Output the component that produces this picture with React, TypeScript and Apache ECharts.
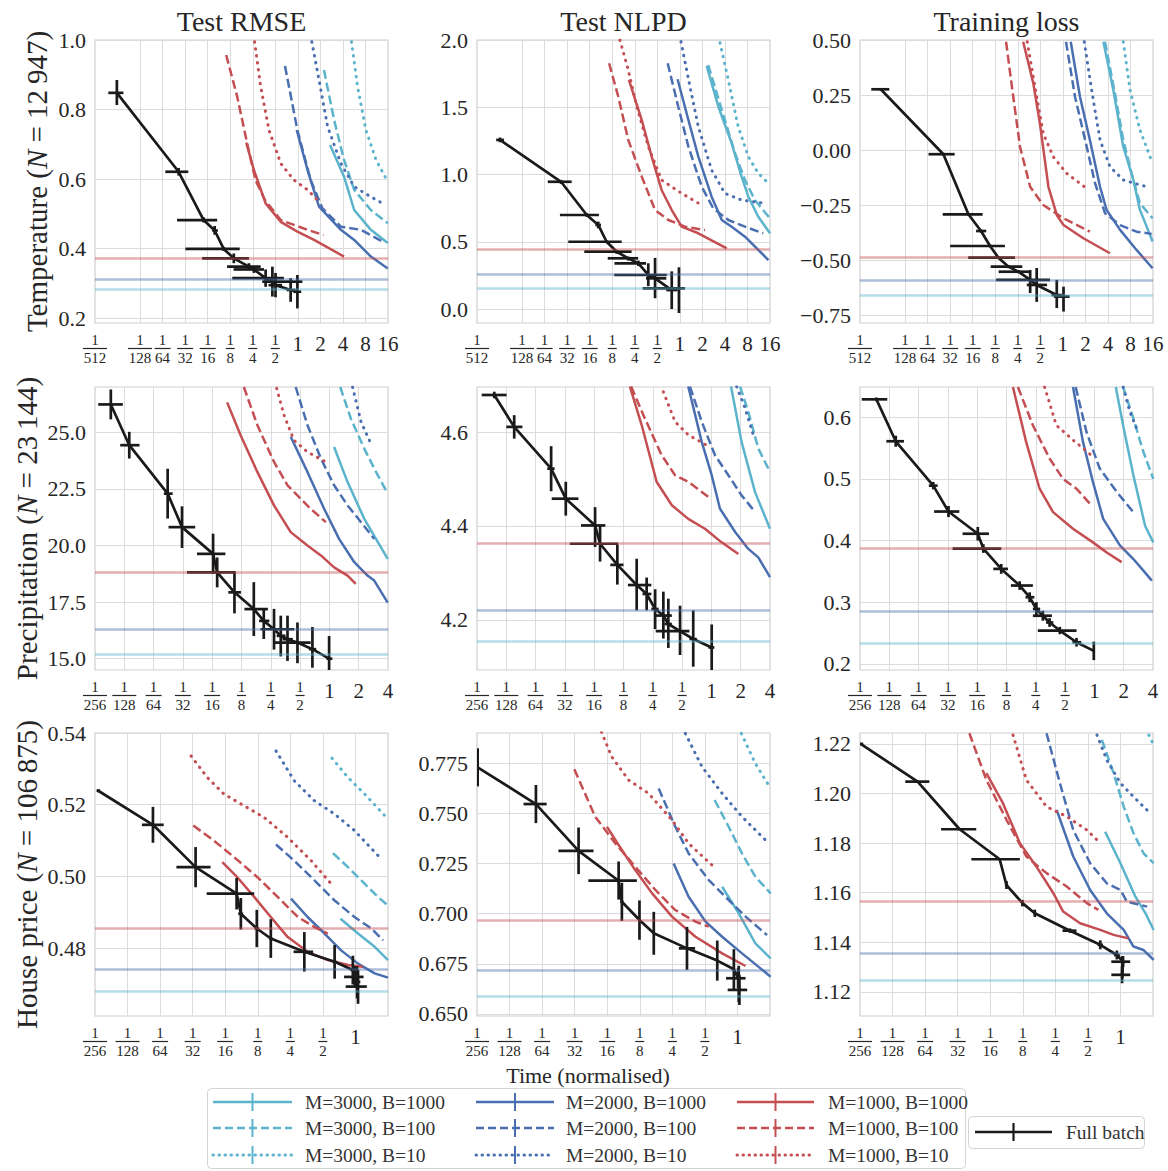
import React, { useEffect, useRef } from 'react';
import * as echarts from 'echarts';

const FONT = 'Liberation Serif';
const TEXT = '#262626';
const CYAN = '#5cb3cc';
const BLUE = '#4a6fb0';
const RED = '#c44e52';
const BLACK = '#1a1a1a';

// legend order: M=3000 (B=1000,100,10), M=2000 (...), M=1000 (...)
const seriesNames = [
  'M=3000, B=1000', 'M=3000, B=100', 'M=3000, B=10',
  'M=2000, B=1000', 'M=2000, B=100', 'M=2000, B=10',
  'M=1000, B=1000', 'M=1000, B=100', 'M=1000, B=10',
];
const seriesColors = [CYAN, CYAN, CYAN, BLUE, BLUE, BLUE, RED, RED, RED];
const DASHED = [9, 4];
const DOTTED = [0.5, 6.5];
const seriesDash: any[] = ['solid', DASHED, DOTTED, 'solid', DASHED, DOTTED, 'solid', DASHED, DOTTED];
const seriesCap = ['butt', 'butt', 'round', 'butt', 'butt', 'round', 'butt', 'butt', 'round'];
const finalColors = [CYAN, BLUE, RED];

const colTitles = ['Test RMSE', 'Test NLPD', 'Training loss'];
const rowNames = [
  ['Temperature (', 'N', ' = 12\u2009947)'],
  ['Precipitation (', 'N', ' = 23\u2009144)'],
  ['House price (', 'N', ' = 106\u2009875)'],
];

// x values are log2(normalised time)
const rowXRange = [[-9, 4], [-8, 2], [-8, 1]];
const rowXLabels = [
  [-9, -7, -6, -5, -4, -3, -2, -1, 0, 1, 2, 3, 4],
  [-8, -7, -6, -5, -4, -3, -2, -1, 0, 1, 2],
  [-8, -7, -6, -5, -4, -3, -2, -1, 0],
];
const rowXTicks = [
  [-7, -6, -5, -4, -3, -2, -1, 0, 1, 2, 3],
  [-7, -6, -5, -4, -3, -2, -1, 0, 1],
  [-7, -6, -5, -4, -3, -2, -1, 0],
];

// ---------- Temperature ----------
const tempRmseY = [0.186, 1.0];
const tempRmseTicks = [0.2, 0.4, 0.6, 0.8, 1.0];
const tempRmseFinal = [0.283, 0.312, 0.372];
const tempRmseLines = [
  [[1.43, 0.698], [2.05, 0.607], [2.5, 0.511], [3.24, 0.454], [3.99, 0.416]],
  [[1.16, 0.914], [1.61, 0.77], [2.05, 0.655], [2.5, 0.569], [3.24, 0.511], [3.99, 0.473]],
  [[2.38, 0.995], [2.65, 0.866], [3.02, 0.741], [3.47, 0.655], [3.91, 0.602]],
  [[-0.05, 0.741], [0.43, 0.626], [0.94, 0.521], [1.91, 0.454], [2.5, 0.425], [3.24, 0.377], [3.99, 0.343]],
  [[-0.57, 0.925], [-0.02, 0.741], [0.57, 0.597], [1.09, 0.516], [1.91, 0.463], [2.8, 0.454], [3.76, 0.42]],
  [[0.62, 0.995], [0.94, 0.885], [1.32, 0.751], [1.91, 0.645], [2.5, 0.578], [3.24, 0.549], [3.76, 0.53]],
  [[-2.29, 0.705], [-1.95, 0.626], [-1.43, 0.53], [-0.76, 0.477], [-0.02, 0.449], [0.72, 0.425], [2.05, 0.377]],
  [[-3.18, 0.957], [-2.69, 0.837], [-2.25, 0.703], [-1.88, 0.597], [-1.46, 0.54], [-0.76, 0.482], [0.43, 0.454], [1.14, 0.439]],
  [[-1.92, 0.995], [-1.65, 0.866], [-1.28, 0.741], [-0.76, 0.645], [-0.17, 0.597], [0.43, 0.569], [0.87, 0.54]],
];
// [x, y, xlo, xhi, ylo, yhi]
const tempRmseFull = [
  [-8.03, 0.848, -8.41, -7.74, 0.813, 0.885],
  [-5.29, 0.621, -5.88, -4.86, 0.61, 0.632],
  [-4.18, 0.482, -5.36, -3.58, 0.475, 0.49],
  [-3.69, 0.452, -3.8, -3.55, 0.44, 0.465],
  [-3.29, 0.399, -4.99, -2.58, 0.393, 0.405],
  [-2.84, 0.372, -4.25, -2.17, 0.358, 0.386],
  [-2.17, 0.348, -3.14, -1.65, 0.338, 0.358],
  [-1.95, 0.34, -2.85, -1.5, 0.33, 0.35],
  [-1.43, 0.315, -2.91, -0.62, 0.29, 0.34],
  [-1.13, 0.305, -1.58, 0.2, 0.262, 0.348],
  [-0.99, 0.295, -1.3, -0.7, 0.26, 0.33],
  [-0.32, 0.281, -0.5, -0.1, 0.247, 0.315],
  [-0.02, 0.276, -0.2, 0.15, 0.228, 0.324],
];

const tempNlpdY = [-0.104, 2.0];
const tempNlpdTicks = [0, 0.5, 1.0, 1.5, 2.0];
const tempNlpdFinal = [0.154, 0.258, 0.446];
const tempNlpdLines = [
  [[1.19, 1.807], [1.71, 1.504], [2.3, 1.232], [2.74, 0.984], [3.04, 0.835], [3.48, 0.686], [4.0, 0.563]],
  [[1.26, 1.814], [1.86, 1.48], [2.45, 1.158], [2.89, 0.959], [3.33, 0.81], [4.0, 0.674]],
  [[1.78, 1.98], [2.15, 1.703], [2.59, 1.355], [3.04, 1.132], [3.48, 1.009], [4.0, 0.922]],
  [[-0.1, 1.708], [0.38, 1.405], [0.82, 1.133], [1.41, 0.835], [1.86, 0.662], [2.3, 0.612], [2.89, 0.538], [3.93, 0.364]],
  [[-0.54, 1.827], [-0.07, 1.504], [0.38, 1.207], [0.97, 0.91], [1.48, 0.749], [2.15, 0.662], [2.89, 0.612], [3.7, 0.563]],
  [[0.05, 1.988], [0.45, 1.653], [0.82, 1.355], [1.41, 1.033], [2.0, 0.86], [2.74, 0.81], [3.78, 0.786]],
  [[-2.26, 1.703], [-1.69, 1.405], [-1.25, 1.133], [-0.81, 0.885], [-0.36, 0.736], [0.08, 0.612], [0.82, 0.563], [2.08, 0.451]],
  [[-3.14, 1.827], [-2.73, 1.578], [-2.29, 1.257], [-1.69, 0.984], [-1.1, 0.736], [-0.51, 0.662], [0.23, 0.612], [1.12, 0.587]],
  [[-2.66, 2.0], [-2.29, 1.777], [-1.91, 1.504], [-1.4, 1.207], [-0.81, 0.959], [0.08, 0.86], [0.97, 0.773]],
];
const tempNlpdFull = [
  [-7.98, 1.257, -8.15, -7.8, 1.24, 1.275],
  [-5.27, 0.946, -5.86, -4.8, 0.93, 0.96],
  [-4.13, 0.699, -5.32, -3.59, 0.685, 0.713],
  [-3.62, 0.625, -3.75, -3.5, 0.6, 0.65],
  [-3.25, 0.5, -4.95, -2.58, 0.49, 0.51],
  [-2.8, 0.426, -4.24, -2.14, 0.41, 0.44],
  [-2.29, 0.377, -3.2, -1.85, 0.36, 0.39],
  [-1.84, 0.34, -2.9, -1.5, 0.32, 0.36],
  [-1.4, 0.253, -2.91, -0.58, 0.17, 0.34],
  [-1.1, 0.228, -1.5, -0.6, 0.08, 0.38],
  [-0.36, 0.141, -0.6, -0.1, 0.0, 0.28],
  [-0.04, 0.154, -1.65, 0.23, -0.03, 0.31],
];

const tempLossY = [-0.786, 0.5];
const tempLossTicks = [-0.75, -0.5, -0.25, 0, 0.25, 0.5];
const tempLossFinal = [-0.659, -0.59, -0.489];
const tempLossLines = [
  [[1.8, 0.492], [2.24, 0.273], [2.68, 0.015], [3.13, -0.136], [3.42, -0.272], [3.72, -0.348], [3.98, -0.416]],
  [[1.87, 0.492], [2.31, 0.258], [2.68, 0.046], [3.05, -0.106], [3.42, -0.242], [3.98, -0.31]],
  [[2.68, 0.492], [2.98, 0.273], [3.42, 0.091], [3.98, -0.06]],
  [[0.35, 0.492], [0.76, 0.242], [1.2, 0.046], [1.65, -0.167], [1.94, -0.272], [2.54, -0.363], [3.27, -0.454], [3.98, -0.537]],
  [[0.14, 0.492], [0.54, 0.242], [0.99, 0.046], [1.43, -0.151], [1.87, -0.287], [2.54, -0.341], [3.27, -0.371], [3.94, -0.381]],
  [[0.95, 0.492], [1.3, 0.258], [1.65, 0.046], [2.09, -0.076], [2.68, -0.136], [3.72, -0.167]],
  [[-1.76, 0.492], [-1.31, 0.303], [-1.02, 0.122], [-0.64, -0.167], [-0.27, -0.295], [0.03, -0.341], [0.91, -0.401], [2.09, -0.469]],
  [[-2.52, 0.492], [-2.2, 0.242], [-1.9, 0.015], [-1.45, -0.167], [-0.87, -0.25], [0.03, -0.31], [1.2, -0.371]],
  [[-1.58, 0.492], [-1.16, 0.242], [-0.87, 0.076], [-0.43, -0.03], [0.17, -0.106], [1.05, -0.174]],
];
const tempLossFull = [
  [-8.08, 0.276, -8.5, -7.7, 0.27, 0.282],
  [-5.3, -0.019, -5.96, -4.8, -0.025, -0.013],
  [-4.19, -0.292, -5.33, -3.56, -0.298, -0.286],
  [-3.63, -0.368, -3.85, -3.4, -0.375, -0.361],
  [-3.23, -0.436, -5.0, -2.57, -0.442, -0.43],
  [-2.86, -0.489, -4.2, -2.12, -0.495, -0.483],
  [-2.41, -0.53, -3.2, -1.8, -0.537, -0.523],
  [-1.97, -0.553, -2.85, -1.5, -0.56, -0.546],
  [-1.45, -0.59, -2.96, -0.57, -0.65, -0.545],
  [-1.16, -0.613, -1.6, -0.7, -0.69, -0.536],
  [-0.27, -0.659, -0.5, -0.05, -0.718, -0.59],
  [0.03, -0.666, -0.4, 0.3, -0.734, -0.621],
];

// ---------- Precipitation ----------
const precRmseY = [14.5, 27.0];
const precRmseTicks = [15, 17.5, 20, 22.5, 25];
const precRmseFinal = [15.19, 16.3, 18.81];
const precRmseLines = [
  [[0.16, 24.35], [0.62, 22.8], [1.19, 21.18], [1.99, 19.41]],
  [[0.37, 27.0], [0.73, 25.61], [1.19, 24.28], [1.59, 23.25], [1.99, 22.29]],
  [],
  [[-1.32, 24.8], [-0.75, 23.25], [-0.18, 21.62], [0.33, 20.29], [0.85, 19.26], [1.3, 18.67], [1.53, 18.45], [1.99, 17.48]],
  [[-1.15, 27.0], [-0.75, 25.32], [-0.29, 23.84], [0.16, 22.66], [0.62, 21.77], [1.08, 21.03], [1.53, 20.29]],
  [[0.79, 27.0], [1.08, 25.46], [1.44, 24.43]],
  [[-3.49, 26.32], [-3.03, 24.87], [-2.46, 23.25], [-1.89, 21.77], [-1.32, 20.59], [-0.75, 20.0], [-0.29, 19.56], [0.16, 19.03], [0.62, 18.67], [0.9, 18.3]],
  [[-2.92, 27.0], [-2.46, 25.32], [-1.89, 23.69], [-1.43, 22.66], [-1.09, 22.21], [-0.64, 21.62], [-0.12, 21.03]],
  [[-1.8, 26.94], [-1.55, 25.76], [-1.21, 24.65], [-0.75, 24.13], [-0.12, 23.69]],
];
const precRmseFull = [
  [-7.46, 26.23, -7.89, -7.05, 25.57, 26.89],
  [-6.83, 24.43, -7.14, -6.48, 23.84, 25.02],
  [-5.52, 22.29, -5.65, -5.35, 21.19, 23.39],
  [-5.03, 20.81, -5.49, -4.58, 19.89, 21.73],
  [-3.97, 19.63, -4.52, -3.55, 18.74, 20.52],
  [-3.83, 18.81, -4.86, -3.21, 18.15, 19.47],
  [-3.24, 17.93, -3.45, -3.02, 17.0, 18.86],
  [-2.58, 17.19, -2.9, -2.1, 16.0, 18.38],
  [-2.24, 16.67, -2.4, -2.05, 15.87, 17.2],
  [-1.89, 16.3, -2.35, -1.2, 15.4, 17.2],
  [-1.66, 16.01, -1.8, -1.5, 15.1, 16.9],
  [-1.43, 15.86, -1.6, -1.25, 14.9, 16.9],
  [-1.09, 15.71, -1.89, -0.64, 14.8, 16.6],
  [-0.58, 15.42, -0.7, -0.45, 14.6, 16.4],
  [-0.01, 15.0, -0.1, 0.1, 14.5, 16.0],
];

const precNlpdY = [4.093, 4.696];
const precNlpdTicks = [4.2, 4.4, 4.6];
const precNlpdFinal = [4.154, 4.221, 4.363];
const precNlpdLines = [
  [[0.67, 4.697], [1.03, 4.579], [1.49, 4.472], [2.0, 4.394]],
  [[0.98, 4.697], [1.26, 4.643], [1.6, 4.565], [2.0, 4.515]],
  [],
  [[-0.79, 4.697], [-0.33, 4.579], [0.01, 4.508], [0.29, 4.437], [0.81, 4.387], [1.26, 4.351], [1.6, 4.333], [2.0, 4.291]],
  [[-0.73, 4.697], [-0.33, 4.622], [0.12, 4.551], [0.58, 4.508], [1.03, 4.465], [1.49, 4.43]],
  [[0.86, 4.697], [1.15, 4.651], [1.43, 4.594]],
  [[-2.78, 4.697], [-2.38, 4.615], [-1.87, 4.494], [-1.35, 4.444], [-0.79, 4.415], [-0.22, 4.394], [0.35, 4.365], [0.92, 4.34]],
  [[-2.74, 4.697], [-2.27, 4.629], [-1.7, 4.551], [-1.24, 4.508], [-0.79, 4.494], [-0.11, 4.462]],
  [[-1.64, 4.686], [-1.24, 4.622], [-0.79, 4.594], [-0.16, 4.572]],
];
const precNlpdFull = [
  [-7.41, 4.679, -7.84, -6.99, 4.672, 4.686],
  [-6.73, 4.611, -7.0, -6.45, 4.586, 4.636],
  [-5.47, 4.522, -5.6, -5.35, 4.474, 4.57],
  [-4.97, 4.458, -5.45, -4.54, 4.422, 4.494],
  [-3.97, 4.401, -4.45, -3.62, 4.355, 4.44],
  [-3.8, 4.362, -4.83, -3.18, 4.324, 4.4],
  [-3.21, 4.317, -3.45, -3.0, 4.275, 4.36],
  [-2.55, 4.274, -2.85, -2.05, 4.22, 4.33],
  [-2.21, 4.255, -2.35, -2.05, 4.22, 4.29],
  [-1.92, 4.223, -2.05, -1.8, 4.18, 4.265],
  [-1.64, 4.209, -1.9, -1.35, 4.16, 4.26],
  [-1.47, 4.191, -1.6, -1.35, 4.14, 4.245],
  [-1.07, 4.176, -1.9, -0.75, 4.125, 4.23],
  [-0.62, 4.159, -0.75, -0.5, 4.1, 4.22],
  [0.01, 4.141, -0.1, 0.1, 4.09, 4.19],
];

const precLossY = [0.19, 0.649];
const precLossTicks = [0.2, 0.3, 0.4, 0.5, 0.6];
const precLossFinal = [0.233, 0.286, 0.387];
const precLossLines = [
  [[0.73, 0.649], [0.98, 0.587], [1.33, 0.506], [1.73, 0.424], [2.01, 0.397]],
  [[0.98, 0.649], [1.33, 0.598], [1.67, 0.544], [2.01, 0.5]],
  [],
  [[-0.73, 0.649], [-0.39, 0.56], [-0.05, 0.495], [0.3, 0.435], [0.87, 0.392], [1.33, 0.37], [1.73, 0.348], [1.96, 0.335]],
  [[-0.64, 0.649], [-0.27, 0.576], [0.18, 0.517], [0.76, 0.479], [1.33, 0.446]],
  [[0.98, 0.649], [1.21, 0.609], [1.44, 0.582]],
  [[-2.78, 0.649], [-2.33, 0.56], [-1.87, 0.484], [-1.41, 0.446], [-0.73, 0.419], [-0.05, 0.397], [0.41, 0.381], [0.93, 0.365]],
  [[-2.61, 0.649], [-2.1, 0.587], [-1.53, 0.533], [-1.07, 0.5], [-0.61, 0.484], [-0.1, 0.457]],
  [[-1.7, 0.649], [-1.3, 0.587], [-0.73, 0.563], [-0.1, 0.538]],
];
const precLossFull = [
  [-7.44, 0.629, -7.94, -7.07, 0.626, 0.632],
  [-6.78, 0.561, -7.1, -6.5, 0.552, 0.57],
  [-5.5, 0.489, -5.65, -5.35, 0.483, 0.495],
  [-4.98, 0.447, -5.47, -4.61, 0.438, 0.456],
  [-3.98, 0.411, -4.5, -3.6, 0.4, 0.422],
  [-3.79, 0.387, -4.84, -3.18, 0.38, 0.394],
  [-3.18, 0.354, -3.45, -2.95, 0.346, 0.362],
  [-2.55, 0.327, -2.85, -2.1, 0.32, 0.334],
  [-2.21, 0.308, -2.35, -2.05, 0.3, 0.316],
  [-1.98, 0.289, -2.1, -1.85, 0.278, 0.3],
  [-1.76, 0.278, -2.1, -1.45, 0.27, 0.286],
  [-1.53, 0.267, -1.65, -1.4, 0.26, 0.274],
  [-1.18, 0.254, -1.93, -0.61, 0.248, 0.26],
  [-0.61, 0.235, -0.75, -0.45, 0.228, 0.242],
  [-0.02, 0.221, -0.05, 0.02, 0.206, 0.236],
];

// ---------- House price ----------
const houseRmseY = [0.4611, 0.54];
const houseRmseTicks = [0.48, 0.5, 0.52, 0.54];
const houseRmseFinal = [0.4679, 0.4741, 0.4857];
const houseRmseLines = [
  [[-0.46, 0.4882], [0.08, 0.4841], [0.59, 0.4804], [1.0, 0.4767]],
  [[-0.69, 0.5065], [-0.23, 0.5026], [0.28, 0.498], [0.69, 0.4943], [1.0, 0.4919]],
  [[-0.72, 0.533], [-0.23, 0.5276], [0.28, 0.523], [1.0, 0.516]],
  [[-1.98, 0.4938], [-1.47, 0.4887], [-0.95, 0.4841], [-0.44, 0.4794], [0.08, 0.4757], [0.59, 0.473], [1.0, 0.4718]],
  [[-2.44, 0.5089], [-1.88, 0.5044], [-1.26, 0.4989], [-0.64, 0.4933], [-0.03, 0.4887], [0.49, 0.4855], [0.85, 0.4822]],
  [[-2.44, 0.535], [-1.88, 0.5267], [-1.26, 0.5211], [-0.64, 0.5174], [-0.03, 0.5128], [0.74, 0.5054]],
  [[-4.09, 0.504], [-3.63, 0.4998], [-3.11, 0.4943], [-2.6, 0.4887], [-2.08, 0.4831], [-1.47, 0.479], [-0.85, 0.4767], [-0.23, 0.4753], [0.23, 0.4748]],
  [[-4.98, 0.5142], [-4.35, 0.51], [-3.73, 0.5054], [-3.01, 0.4998], [-2.39, 0.4943], [-1.77, 0.4887], [-1.26, 0.4859], [-0.85, 0.4841]],
  [[-5.05, 0.5336], [-4.55, 0.5276], [-4.04, 0.523], [-3.42, 0.5197], [-2.81, 0.5165], [-2.08, 0.5109], [-1.36, 0.5044], [-0.75, 0.498]],
];
const houseRmseFull = [
  [-7.9, 0.5239, -7.95, -7.85, 0.5235, 0.5243],
  [-6.22, 0.5144, -6.56, -5.89, 0.5094, 0.5194],
  [-4.91, 0.5026, -5.5, -4.45, 0.497, 0.5082],
  [-3.65, 0.4952, -4.57, -3.11, 0.4908, 0.4996],
  [-3.52, 0.4896, -3.6, -3.45, 0.4852, 0.494],
  [-3.03, 0.4855, -3.1, -2.96, 0.4803, 0.4907],
  [-2.6, 0.4827, -2.65, -2.55, 0.4773, 0.4881],
  [-1.57, 0.479, -1.9, -1.3, 0.4735, 0.4845],
  [-0.64, 0.4762, -0.7, -0.58, 0.4715, 0.4809],
  [-0.08, 0.4739, -0.15, 0.0, 0.4699, 0.4779],
  [-0.02, 0.472, -0.35, 0.25, 0.469, 0.475],
  [0.08, 0.4693, -0.3, 0.35, 0.4645, 0.474],
  [0.05, 0.4706, -0.1, 0.15, 0.466, 0.475],
];

const houseNlpdY = [0.649, 0.79];
const houseNlpdTicks = [0.65, 0.675, 0.7, 0.725, 0.75, 0.775];
const houseNlpdFinal = [0.659, 0.6719, 0.6968];
const houseNlpdLines = [
  [[-0.47, 0.7134], [0.04, 0.7001], [0.55, 0.6852], [1.02, 0.6777]],
  [[-0.7, 0.7566], [-0.27, 0.7433], [0.14, 0.73], [0.55, 0.7184], [1.02, 0.7101]],
  [[0.12, 0.7898], [0.55, 0.7748], [1.02, 0.7624]],
  [[-1.96, 0.725], [-1.5, 0.7084], [-0.98, 0.696], [-0.47, 0.6885], [0.14, 0.6802], [1.02, 0.6686]],
  [[-2.42, 0.7624], [-1.91, 0.7433], [-1.5, 0.73], [-0.88, 0.7167], [-0.37, 0.7084], [0.25, 0.6985], [0.91, 0.6893]],
  [[-1.6, 0.7898], [-1.09, 0.7732], [-0.47, 0.7599], [0.14, 0.7483], [0.86, 0.7367]],
  [[-4.01, 0.7433], [-3.65, 0.7342], [-3.14, 0.7217], [-2.62, 0.7101], [-2.01, 0.6985], [-1.29, 0.6885], [-0.47, 0.6802], [0.25, 0.6739]],
  [[-5.01, 0.7719], [-4.37, 0.7483], [-3.75, 0.735], [-3.14, 0.7234], [-2.52, 0.7118], [-1.91, 0.7018], [-1.29, 0.696], [-0.88, 0.6935]],
  [[-4.18, 0.7906], [-3.86, 0.7781], [-3.34, 0.7665], [-2.73, 0.7599], [-2.01, 0.7466], [-1.5, 0.735], [-0.73, 0.7234]],
];
const houseNlpdFull = [
  [-7.98, 0.7729, -8.0, -7.95, 0.7634, 0.7824],
  [-6.19, 0.7546, -6.57, -5.86, 0.7451, 0.7641],
  [-4.88, 0.7313, -5.5, -4.42, 0.7197, 0.7429],
  [-3.65, 0.7164, -4.58, -3.09, 0.707, 0.726],
  [-3.55, 0.7059, -3.6, -3.5, 0.6964, 0.7154],
  [-3.01, 0.6968, -3.05, -2.97, 0.687, 0.7066],
  [-2.57, 0.6902, -2.6, -2.54, 0.6795, 0.7009],
  [-1.55, 0.6827, -1.8, -1.3, 0.672, 0.6934],
  [-0.62, 0.6766, -0.65, -0.59, 0.6666, 0.6866],
  [-0.11, 0.6723, -0.15, -0.07, 0.6623, 0.6823],
  [0.02, 0.6678, -0.35, 0.25, 0.6628, 0.6728],
  [0.06, 0.662, -0.3, 0.3, 0.6545, 0.6695],
  [0.04, 0.665, 0.0, 0.08, 0.656, 0.674],
];

const houseLossY = [1.1103, 1.2244];
const houseLossTicks = [1.12, 1.14, 1.16, 1.18, 1.2, 1.22];
const houseLossFinal = [1.1246, 1.1356, 1.1564];
const houseLossLines = [
  [[-0.47, 1.1846], [0.0, 1.1719], [0.46, 1.1584], [0.77, 1.1517], [1.02, 1.145]],
  [[-0.57, 1.2216], [-0.21, 1.2082], [0.1, 1.1947], [0.4, 1.184], [0.71, 1.1759], [1.02, 1.1719]],
  [[0.87, 1.2236], [1.02, 1.2196]],
  [[-1.96, 1.1934], [-1.45, 1.1746], [-0.93, 1.1611], [-0.42, 1.1517], [0.1, 1.145], [0.4, 1.1383], [0.71, 1.1369], [1.02, 1.1329]],
  [[-2.27, 1.2243], [-1.86, 1.2042], [-1.45, 1.1853], [-0.93, 1.1719], [-0.42, 1.1638], [0.0, 1.1611], [0.2, 1.1564], [0.82, 1.1544]],
  [[-0.72, 1.2236], [-0.42, 1.2135], [0.0, 1.2042], [0.4, 1.1987], [0.92, 1.192]],
  [[-4.12, 1.2082], [-3.61, 1.1961], [-3.09, 1.18], [-2.58, 1.1705], [-2.06, 1.1598], [-1.76, 1.1524], [-1.24, 1.1477], [-0.62, 1.145], [-0.21, 1.143], [0.25, 1.1416]],
  [[-4.64, 1.2243], [-4.12, 1.2055], [-3.5, 1.1894], [-2.89, 1.1746], [-2.27, 1.1679], [-1.65, 1.1625], [-1.03, 1.1558], [-0.68, 1.1531]],
  [[-3.3, 1.2236], [-2.89, 1.2055], [-2.27, 1.1947], [-1.65, 1.1907], [-1.03, 1.1853], [-0.72, 1.1813]],
];
const houseLossFull = [
  [-7.98, 1.22, -8.0, -7.9, 1.2196, 1.2204],
  [-6.23, 1.2048, -6.61, -5.87, 1.2044, 1.2052],
  [-4.94, 1.1856, -5.51, -4.43, 1.1852, 1.186],
  [-3.71, 1.1735, -4.58, -3.09, 1.1731, 1.1739],
  [-3.5, 1.1631, -3.55, -3.45, 1.1615, 1.1647],
  [-3.01, 1.1558, -3.05, -2.97, 1.1545, 1.1571],
  [-2.63, 1.1517, -2.67, -2.59, 1.1502, 1.1532],
  [-1.55, 1.1447, -1.78, -1.35, 1.1438, 1.1456],
  [-0.62, 1.139, -0.7, -0.54, 1.1372, 1.1408],
  [-0.11, 1.1349, -0.2, -0.02, 1.1331, 1.1367],
  [0.08, 1.1322, -0.28, 0.3, 1.13, 1.1344],
  [0.05, 1.1269, -0.28, 0.3, 1.1235, 1.1303],
  [0.06, 1.13, 0.03, 0.09, 1.1255, 1.1345],
];

const panels = [
  { lines: tempRmseLines, full: tempRmseFull, final: tempRmseFinal, y: tempRmseY, ticks: tempRmseTicks, dec: 1 },
  { lines: tempNlpdLines, full: tempNlpdFull, final: tempNlpdFinal, y: tempNlpdY, ticks: tempNlpdTicks, dec: 1 },
  { lines: tempLossLines, full: tempLossFull, final: tempLossFinal, y: tempLossY, ticks: tempLossTicks, dec: 2 },
  { lines: precRmseLines, full: precRmseFull, final: precRmseFinal, y: precRmseY, ticks: precRmseTicks, dec: 1 },
  { lines: precNlpdLines, full: precNlpdFull, final: precNlpdFinal, y: precNlpdY, ticks: precNlpdTicks, dec: 1 },
  { lines: precLossLines, full: precLossFull, final: precLossFinal, y: precLossY, ticks: precLossTicks, dec: 1 },
  { lines: houseRmseLines, full: houseRmseFull, final: houseRmseFinal, y: houseRmseY, ticks: houseRmseTicks, dec: 2 },
  { lines: houseNlpdLines, full: houseNlpdFull, final: houseNlpdFinal, y: houseNlpdY, ticks: houseNlpdTicks, dec: 3 },
  { lines: houseLossLines, full: houseLossFull, final: houseLossFinal, y: houseLossY, ticks: houseLossTicks, dec: 2 },
];

const GRID_LEFT = [95, 477, 860];
const GRID_TOP = [40, 387, 733];
const GRID_W = 293;
const GRID_H = 283;

const fracFmt = (v: number) => {
  const k = Math.round(v);
  if (k < 0) {
    const d = String(Math.round(Math.pow(2, -k)));
    return `{n|1}\n{b${d.length}| }\n{d|${d}}`;
  }
  return `{w|${Math.round(Math.pow(2, k))}}`;
};

const fracRich = {
  n: { fontSize: 15, lineHeight: 13, fontFamily: FONT, color: TEXT, align: 'center' },
  d: { fontSize: 15, lineHeight: 14, fontFamily: FONT, color: TEXT, align: 'center' },
  b1: { width: 9, height: 1.2, lineHeight: 5, backgroundColor: TEXT, align: 'center' },
  b2: { width: 16, height: 1.2, lineHeight: 5, backgroundColor: TEXT, align: 'center' },
  b3: { width: 24, height: 1.2, lineHeight: 5, backgroundColor: TEXT, align: 'center' },
  w: { fontSize: 21, lineHeight: 21, fontFamily: FONT, color: TEXT, align: 'center' },
};

const errRender = (params: any, api: any) => {
  const x = api.value(0);
  const y = api.value(1);
  const a = api.coord([api.value(2), y]);
  const b = api.coord([api.value(3), y]);
  const c = api.coord([x, api.value(4)]);
  const d = api.coord([x, api.value(5)]);
  return {
    type: 'group',
    children: [
      { type: 'line', shape: { x1: a[0], y1: a[1], x2: b[0], y2: b[1] }, style: { stroke: BLACK, lineWidth: 2.7 } },
      { type: 'line', shape: { x1: c[0], y1: c[1], x2: d[0], y2: d[1] }, style: { stroke: BLACK, lineWidth: 2.7 } },
    ],
  };
};

function buildOption() {
  const grid: any[] = [];
  const xAxis: any[] = [];
  const yAxis: any[] = [];
  const series: any[] = [];
  panels.forEach((p, i) => {
    const row = Math.floor(i / 3);
    const col = i % 3;
    grid.push({
      left: GRID_LEFT[col], top: GRID_TOP[row], width: GRID_W, height: GRID_H,
      show: true, borderColor: '#cfcfcf', borderWidth: 1.2, backgroundColor: 'transparent', containLabel: false,
    });
    xAxis.push({
      type: 'value', gridIndex: i, min: rowXRange[row][0], max: rowXRange[row][1],
      axisLine: { show: false },
      axisTick: { show: false, customValues: rowXTicks[row] },
      splitLine: { show: true, lineStyle: { color: '#dcdcdc', width: 1 } },
      axisLabel: { customValues: rowXLabels[row], formatter: fracFmt, rich: fracRich, margin: 10, color: TEXT, fontFamily: FONT },
    });
    yAxis.push({
      type: 'value', gridIndex: i, min: p.y[0], max: p.y[1],
      axisLine: { show: false },
      axisTick: { show: false, customValues: p.ticks },
      splitLine: { show: true, lineStyle: { color: '#dcdcdc', width: 1 } },
      axisLabel: {
        customValues: p.ticks, margin: 9, color: TEXT, fontFamily: FONT, fontSize: 22,
        formatter: (v: number) => v.toFixed(p.dec).replace('-', '\u2212'),
      },
    });
    p.lines.forEach((pts, k) => {
      if (!pts.length) return;
      series.push({
        type: 'line', xAxisIndex: i, yAxisIndex: i, data: pts, symbol: 'none', showSymbol: false,
        z: 2, silent: true, name: seriesNames[k],
        itemStyle: { color: seriesColors[k] },
        lineStyle: { color: seriesColors[k], width: k % 3 === 2 ? 3 : 2.5, type: seriesDash[k], cap: seriesCap[k] },
      });
    });
    series.push({
      type: 'line', xAxisIndex: i, yAxisIndex: i, data: p.full.map((d) => [d[0], d[1]]),
      symbol: 'none', showSymbol: false, z: 3, silent: true, name: 'Full batch',
      itemStyle: { color: BLACK }, lineStyle: { color: BLACK, width: 2.7 },
      markLine: {
        silent: true, symbol: ['none', 'none'], label: { show: false }, z: 5, precision: 6,
        data: p.final.map((v, j) => ({ yAxis: v, lineStyle: { color: finalColors[j], width: 2.6, opacity: 0.45, type: 'solid' } })),
      },
    });
    series.push({
      type: 'custom', xAxisIndex: i, yAxisIndex: i, data: p.full, renderItem: errRender,
      encode: { x: 0, y: 1 }, z: 3, clip: true, silent: true,
    });
  });

  const graphic: any[] = [];
  colTitles.forEach((t, c) => {
    graphic.push({
      type: 'text', x: GRID_LEFT[c] + GRID_W / 2, y: 21,
      style: { text: t, fontSize: 28, fontFamily: FONT, fill: TEXT, align: 'center', verticalAlign: 'middle' },
    });
  });
  const nameX = [37, 27, 27];
  rowNames.forEach((r, i) => {
    graphic.push({
      type: 'text', x: nameX[i], y: GRID_TOP[i] + GRID_H / 2, rotation: Math.PI / 2,
      style: {
        text: `{a|${r[0]}}{i|${r[1]}}{a|${r[2]}}`, align: 'center', verticalAlign: 'middle',
        rich: {
          a: { fontSize: 29, fontFamily: FONT, fill: TEXT },
          i: { fontSize: 29, fontFamily: FONT, fill: TEXT, fontStyle: 'italic' },
        },
      },
    });
  });
  graphic.push({
    type: 'text', x: 588, y: 1075,
    style: { text: 'Time (normalised)', fontSize: 22, fontFamily: FONT, fill: TEXT, align: 'center', verticalAlign: 'middle' },
  });

  // legend
  graphic.push({ type: 'rect', shape: { x: 207.5, y: 1088.5, width: 758, height: 80, r: 4 }, style: { fill: '#fff', stroke: '#d4d4d4', lineWidth: 1 } });
  graphic.push({ type: 'rect', shape: { x: 968.5, y: 1116.5, width: 176, height: 32, r: 4 }, style: { fill: '#fff', stroke: '#d4d4d4', lineWidth: 1 } });
  const legCols = [[213, 292, 305], [476, 554, 566], [737, 814, 828]];
  const legRows = [1102, 1128, 1155];
  seriesNames.forEach((nm, k) => {
    const c = Math.floor(k / 3);
    const r = k % 3;
    const [x1, x2, tx] = legCols[c];
    const y = legRows[r];
    const dash = r === 0 ? null : r === 1 ? [8, 4] : [0.5, 5.5];
    const mid = (x1 + x2) / 2;
    graphic.push({ type: 'line', shape: { x1, y1: y, x2, y2: y }, style: { stroke: seriesColors[k], lineWidth: r === 2 ? 3 : 2.5, lineDash: dash, lineCap: r === 2 ? 'round' : 'butt' } });
    graphic.push({ type: 'line', shape: { x1: mid, y1: y - 9, x2: mid, y2: y + 9 }, style: { stroke: seriesColors[k], lineWidth: 2 } });
    graphic.push({ type: 'text', x: tx, y, style: { text: nm, fontSize: 19.5, fontFamily: FONT, fill: '#333', align: 'left', verticalAlign: 'middle' } });
  });
  graphic.push({ type: 'line', shape: { x1: 975, y1: 1132, x2: 1052, y2: 1132 }, style: { stroke: BLACK, lineWidth: 2.7 } });
  graphic.push({ type: 'line', shape: { x1: 1013.5, y1: 1123, x2: 1013.5, y2: 1141 }, style: { stroke: BLACK, lineWidth: 2.2 } });
  graphic.push({ type: 'text', x: 1066, y: 1132, style: { text: 'Full batch', fontSize: 19.5, fontFamily: FONT, fill: '#333', align: 'left', verticalAlign: 'middle' } });

  return {
    animation: false,
    backgroundColor: '#ffffff',
    textStyle: { fontFamily: FONT },
    grid, xAxis, yAxis, series, graphic,
  };
}

export default function App() {
  const ref = useRef<HTMLDivElement>(null);
  useEffect(() => {
    if (!ref.current) return;
    const chart = echarts.init(ref.current, undefined, { renderer: 'svg' });
    chart.setOption(buildOption() as any);
    return () => chart.dispose();
  }, []);
  return <div ref={ref} style={{ position: 'absolute', left: 0, top: 0, width: 1168, height: 1171, background: '#fff' }} />;
}
